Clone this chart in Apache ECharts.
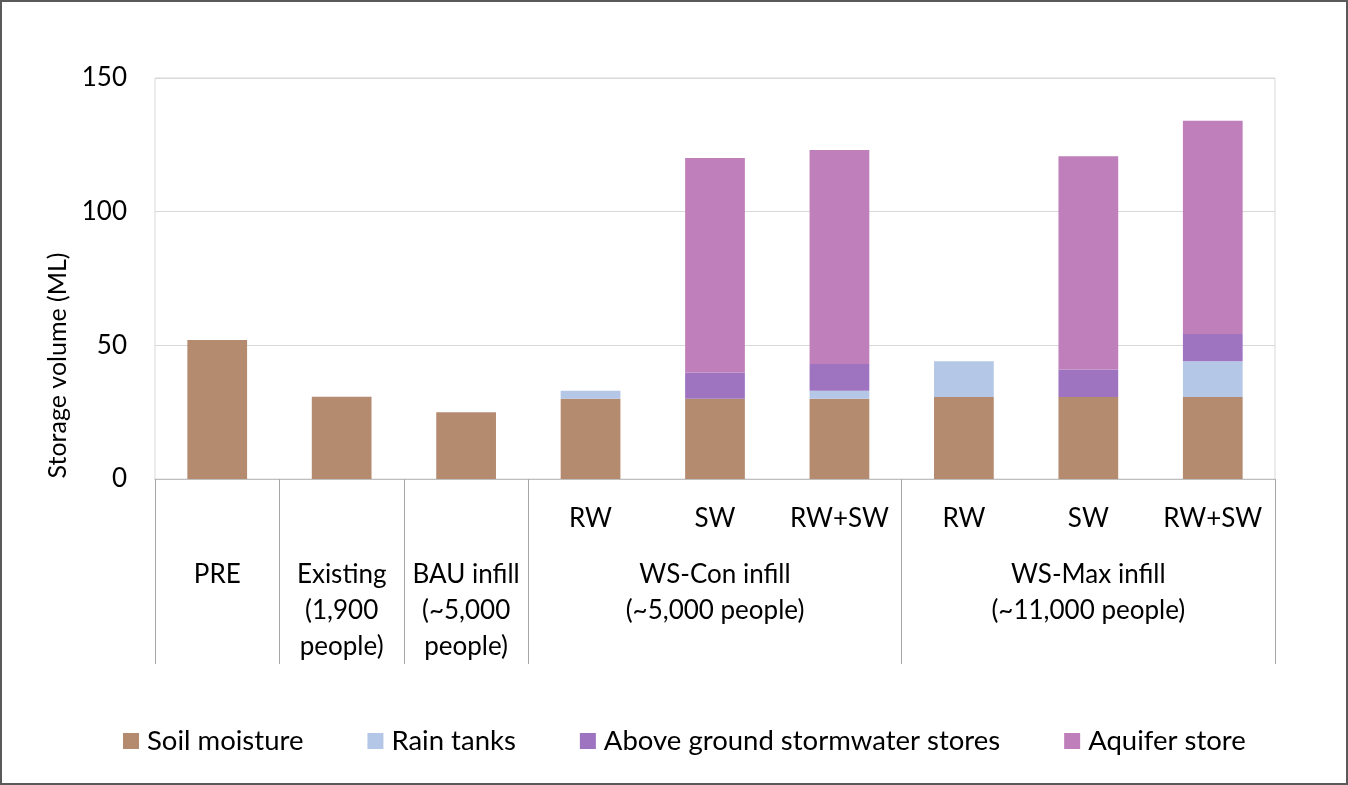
<!DOCTYPE html>
<html>
<head>
<meta charset="utf-8">
<script src="https://cdn.jsdelivr.net/npm/echarts@6/dist/echarts.min.js"></script>
<style>
  html, body { margin: 0; padding: 0; background: #fff; }
  #wrap { position: relative; width: 1348px; height: 785px; }
  #chart { position: absolute; left: 0; top: 0; width: 1348px; height: 785px; }
  #frame { position: absolute; left: 0; top: 0; width: 1348px; height: 785px; box-sizing: border-box; border: 2px solid #5a5a5a; pointer-events: none; }
</style>
</head>
<body>
<div id="wrap"><div id="chart"></div><div id="frame"></div></div>
<script>
// ---- data ----
const categories = ['PRE', 'Existing', 'BAU infill', 'WS-Con RW', 'WS-Con SW', 'WS-Con RW+SW', 'WS-Max RW', 'WS-Max SW', 'WS-Max RW+SW'];
const subLabels = ['', '', '', 'RW', 'SW', 'RW+SW', 'RW', 'SW', 'RW+SW'];
const groupLabels = ['PRE', 'Existing\n(1,900\npeople)', 'BAU infill\n(~5,000\npeople)', 'WS-Con infill\n(~5,000 people)', 'WS-Max infill\n(~11,000 people)'];
const groupSizes = [1, 1, 1, 3, 3];
const seriesNames = ['Soil moisture', 'Rain tanks', 'Above ground stormwater stores', 'Aquifer store'];
const soilMoisture = [52, 30.8, 25, 30, 30, 30, 30.7, 30.7, 30.7];
const rainTanks = [null, null, null, 3, null, 3, 13.3, null, 13.3];
const aboveGround = [null, null, null, null, 9.8, 10, null, 10.3, 10.2];
const aquiferStore = [null, null, null, null, 80.3, 80.1, null, 79.7, 79.8];
const yTicks = [0, 50, 100, 150];

// ---- derived group boundaries / centers ----
const boundaries = [0];
const centers = [];
groupSizes.forEach(s => { const b = boundaries[boundaries.length - 1]; centers.push(b + s / 2); boundaries.push(b + s); });

const colors = ['#B58B6F', '#B4C7E7', '#9E73C0', '#BF7FBA'];
const FONT = 'Lato';
const chart = echarts.init(document.getElementById('chart'), null, { renderer: 'canvas' });

const mk = (name, data, color) => ({
  name, type: 'bar', stack: 'total', data,
  barCategoryGap: '52%',
  itemStyle: { color },
  emphasis: { disabled: true }
});

chart.setOption({
  animation: false,
  color: colors,
  textStyle: { fontFamily: FONT },
  grid: { left: 155, right: 73, top: 78, bottom: 306, show: true, borderColor: '#d9d9d9', borderWidth: 1 },
  legend: {
    left: 118, top: 722,
    itemWidth: 16, itemHeight: 16, itemGap: 64,
    icon: 'rect',
    textStyle: { fontFamily: FONT, fontSize: 27.5, color: '#000', padding: [0, 0, 0, 3] },
    data: seriesNames
  },
  xAxis: [
    {
      type: 'category', data: categories, gridIndex: 0,
      axisLine: { show: true, lineStyle: { color: '#bfbfbf', width: 1 } },
      axisTick: { show: false },
      axisLabel: {
        interval: 0, margin: 22, fontFamily: FONT, fontSize: 26, color: '#000', lineHeight: 36,
        formatter: (v, i) => subLabels[i]
      }
    },
    {
      type: 'value', gridIndex: 0, position: 'bottom', min: 0, max: categories.length,
      axisLine: { show: false },
      splitLine: { show: false },
      axisTick: { show: true, customValues: boundaries, length: 185, lineStyle: { color: '#a6a6a6', width: 1 } },
      axisLabel: {
        customValues: centers, margin: 78, fontFamily: FONT, fontSize: 26, color: '#000', lineHeight: 36,
        align: 'center',
        formatter: (v) => { let k = 0, d = 1e9; centers.forEach((c, j) => { if (Math.abs(c - v) < d) { d = Math.abs(c - v); k = j; } }); return groupLabels[k]; }
      }
    }
  ],
  yAxis: {
    type: 'value', min: yTicks[0], max: yTicks[yTicks.length - 1], interval: 50,
    name: 'Storage volume (ML)', nameLocation: 'middle', nameRotate: 90, nameGap: 82,
    nameTextStyle: { fontFamily: FONT, fontSize: 25, color: '#000', padding: [0, 174, 0, 0] },
    axisLine: { show: false },
    axisTick: { show: false },
    axisLabel: { margin: 28, fontFamily: FONT, fontSize: 26, color: '#000' },
    splitLine: { show: true, lineStyle: { color: '#d9d9d9', width: 1 } }
  },
  series: [
    mk(seriesNames[0], soilMoisture, colors[0]),
    mk(seriesNames[1], rainTanks, colors[1]),
    mk(seriesNames[2], aboveGround, colors[2]),
    mk(seriesNames[3], aquiferStore, colors[3])
  ]
});
</script>
</body>
</html>
